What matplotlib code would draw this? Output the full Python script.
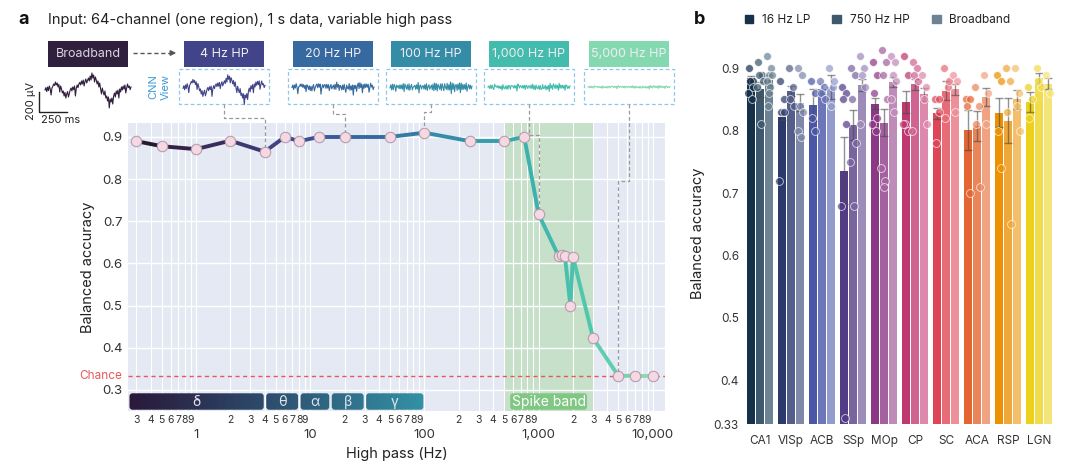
import numpy as np
import matplotlib
matplotlib.use("Agg")
import matplotlib.pyplot as plt
import seaborn as sns
from matplotlib.collections import LineCollection
from matplotlib.patches import FancyBboxPatch, Rectangle, Patch
from matplotlib.colors import LinearSegmentedColormap
from matplotlib.ticker import LogLocator, FuncFormatter

plt.rcParams['font.family'] = ['Inter', 'DejaVu Sans']
plt.rcParams['text.color'] = '#222222'
plt.rcParams['axes.labelcolor'] = '#222222'

# ---- panel a data ----
hp_freq = [0.3, 0.5, 1, 2, 4, 6, 8, 12, 20, 50, 100, 250, 500, 750,
           1000, 1500, 1600, 1700, 1900, 2000, 3000, 5000, 7000, 10000]
hp_acc = [0.890, 0.878, 0.871, 0.891, 0.865, 0.900, 0.890, 0.900, 0.900, 0.900,
          0.910, 0.890, 0.890, 0.900, 0.717, 0.617, 0.620, 0.617, 0.500, 0.616,
          0.423, 0.333, 0.334, 0.334]
chance = 0.333

band_names = ['δ', 'θ', 'α', 'β', 'γ']
band_lo = [0.25, 4, 8, 15, 30]
band_hi = [4, 8, 15, 30, 100]
spike_band = (500, 3000)

view_labels = ['Broadband', '4 Hz HP', '20 Hz HP', '100 Hz HP', '1,000 Hz HP', '5,000 Hz HP']
view_freqs = [None, 4, 20, 100, 1000, 5000]

# example broadband trace (µV)
trace_uv = [0, 24, -16, 30, -6, 40, 10, -50, 20, 36,
            60, 44, 80, 50, 70, 30, 56, -20, 40, 10,
            -30, -10, -60, -24, -80, -40, -16, -70, -36, 0,
            20, -10, 30, 4, 40, -60, 16, 50, 24, 60,
            76, 50, 90, 60, 100, 40, 84, 110, 70, 96,
            120, 90, 140, 100, 170, 120, 150, 80, 130, 100,
            60, 90, 30, 70, 10, -40, 20, -20, -50, -10,
            -80, -60, -110, -70, -180, -90, -120, -80, -140, -60,
            -30, -70, -10, -40, 0, -80, 10, -20, 30, 0,
            40, 10, 50, -30, 20, 60, 24, 40, 4, 30]

# ---- panel b data ----
regions = ['CA1', 'VISp', 'ACB', 'SSp', 'MOp', 'CP', 'SC', 'ACA', 'RSP', 'LGN']
conditions = ['16 Hz LP', '750 Hz HP', 'Broadband']
acc_lp = [0.884, 0.822, 0.841, 0.736, 0.843, 0.846, 0.828, 0.801, 0.829, 0.846]
acc_hp = [0.866, 0.864, 0.866, 0.809, 0.813, 0.874, 0.864, 0.807, 0.816, 0.884]
acc_bb = [0.881, 0.845, 0.870, 0.873, 0.878, 0.858, 0.866, 0.854, 0.850, 0.875]
sem_lp = [0.004, 0.005, 0.026, 0.054, 0.009, 0.017, 0.009, 0.032, 0.023, 0.016]
sem_hp = [0.012, 0.008, 0.008, 0.024, 0.021, 0.009, 0.015, 0.024, 0.036, 0.009]
sem_bb = [0.008, 0.013, 0.020, 0.010, 0.008, 0.010, 0.009, 0.015, 0.015, 0.009]
dots_lp = [[0.90, 0.88, 0.88, 0.87, 0.86, 0.85],
           [0.88, 0.85, 0.83, 0.83, 0.72],
           [0.88, 0.86, 0.82, 0.80],
           [0.87, 0.86, 0.85, 0.81, 0.68, 0.34],
           [0.91, 0.89, 0.86, 0.82, 0.81, 0.80],
           [0.92, 0.89, 0.81, 0.80, 0.81],
           [0.85, 0.85, 0.78, 0.83],
           [0.85, 0.85, 0.84, 0.70],
           [0.89, 0.88, 0.80, 0.74],
           [0.87, 0.85, 0.82]]
dots_hp = [[0.91, 0.89, 0.89, 0.88, 0.87, 0.81],
           [0.90, 0.87, 0.85, 0.84],
           [0.88, 0.87, 0.86, 0.85],
           [0.90, 0.89, 0.85, 0.78, 0.75, 0.68],
           [0.93, 0.91, 0.89, 0.85, 0.74, 0.72, 0.71],
           [0.91, 0.90, 0.89, 0.88, 0.80],
           [0.90, 0.87, 0.82, 0.88],
           [0.87, 0.84, 0.81, 0.71],
           [0.90, 0.88, 0.83, 0.65],
           [0.90, 0.87, 0.88]]
dots_bb = [[0.92, 0.90, 0.89, 0.89, 0.88, 0.87, 0.86, 0.84],
           [0.90, 0.89, 0.84, 0.83, 0.80, 0.79],
           [0.90, 0.87, 0.84, 0.88],
           [0.92, 0.90, 0.89, 0.87, 0.81],
           [0.92, 0.91, 0.89, 0.88, 0.85, 0.83],
           [0.89, 0.87, 0.85, 0.81],
           [0.89, 0.88, 0.83],
           [0.89, 0.86, 0.81],
           [0.90, 0.86, 0.84, 0.80],
           [0.89, 0.86]]
region_colors = [['#16324a', '#3e596d', '#6d8393'],
                 ['#2b3a6b', '#535f8a', '#8088a9'],
                 ['#4a57a6', '#6c76b8', '#939bcc'],
                 ['#523c85', '#7964a0', '#9d8bba'],
                 ['#8b3985', '#a4619f', '#bf8bb8'],
                 ['#bf3970', '#cf6490', '#dc89ab'],
                 ['#de4657', '#e76c78', '#ee9099'],
                 ['#e46432', '#ea8559', '#f0a383'],
                 ['#ed9100', '#f0a73a', '#f4bf6a'],
                 ['#ecd01c', '#f1dc4b', '#f3e57a']]

mako = sns.color_palette("mako", as_cmap=True)


def freq_color(f, shift=0.0):
    # position along mako for a given high pass
    return mako(0.217 + shift + 0.171 * np.log10(f))


def highpass(sig, win):
    sig = np.asarray(sig, float)
    pad = np.pad(sig, win, mode='edge')
    smooth = np.convolve(pad, np.ones(win) / win, mode='same')[win:-win]
    return sig - smooth


W, H = 1080, 469
fig = plt.figure(figsize=(W / 100, H / 100), dpi=100)

# ================= panel a =================
ax = fig.add_axes([128 / W, 1 - 411 / H, (665 - 128) / W, (411 - 123) / H])
ax.set_facecolor('#e4e9f3')
ax.set_xscale('log')
ax.set_xlim(0.254, 12800)
ax.set_ylim(0.25, 0.933)
for s in ax.spines.values():
    s.set_visible(False)
ax.set_axisbelow(True)
ax.xaxis.set_major_locator(LogLocator(base=10))
ax.xaxis.set_minor_locator(LogLocator(base=10, subs=np.arange(2, 10)))
ax.xaxis.set_major_formatter(FuncFormatter(lambda x, p: '{:,.0f}'.format(x)))
ax.xaxis.set_minor_formatter(FuncFormatter(
    lambda x, p: '%d' % round(x / 10 ** np.floor(np.log10(x) + 1e-9))))
ax.set_yticks([0.3, 0.4, 0.5, 0.6, 0.7, 0.8, 0.9])
ax.grid(True, which='both', axis='x', color='white', lw=0.8)
ax.grid(True, which='major', axis='y', color='white', lw=1.0)
ax.tick_params(axis='x', which='minor', labelsize=7.5, pad=3, length=0, labelcolor='#333333')
ax.tick_params(axis='x', which='major', labelsize=9.5, pad=13, length=0, labelcolor='#333333')
ax.tick_params(axis='y', labelsize=9.5, pad=4, length=0, labelcolor='#333333')
ax.set_xlabel('High pass (Hz)', fontsize=10.5, labelpad=4)
ax.set_ylabel('Balanced accuracy', fontsize=10.5, labelpad=5)

ax.axvspan(*spike_band, color='#c6e0c9', lw=0, zorder=0.3)
ax.axhline(chance, color='#e8585a', ls=(0, (3, 2.5)), lw=1, zorder=2)
ax.text(-0.011, chance, 'Chance', color='#e8585a', fontsize=8.5, ha='right', va='center',
        transform=ax.get_yaxis_transform())

pts = np.column_stack([hp_freq, hp_acc])
segs = np.stack([pts[:-1], pts[1:]], axis=1)
seg_cols = [freq_color(np.sqrt(a * b), -0.03) for a, b in zip(hp_freq[:-1], hp_freq[1:])]
lc = LineCollection(segs, colors=seg_cols, lw=2.8, capstyle='round', joinstyle='round', zorder=3)
ax.add_collection(lc)
ax.plot(hp_freq, hp_acc, 'o', ms=7.5, mfc='#f6d7e4', mec='#b59fac', mew=0.8, zorder=4)

# ================= panel b =================
bx = fig.add_axes([744.5 / W, 1 - 424 / H, 310 / W, (424 - 43.3) / H])
bx.set_xlim(-0.5, 9.5)
bx.set_ylim(0.33, 0.94)
for s in bx.spines.values():
    s.set_visible(False)
xpos = np.arange(len(regions))
jit = np.array([-0.07, 0.06, -0.02, 0.09, -0.09, 0.03, 0.0, -0.05])
for k, (acc, sem, dots) in enumerate(zip([acc_lp, acc_hp, acc_bb],
                                         [sem_lp, sem_hp, sem_bb],
                                         [dots_lp, dots_hp, dots_bb])):
    off = (k - 1) * 0.3
    cols = [c[k] for c in region_colors]
    bx.bar(xpos + off, acc, width=0.27, color=cols, zorder=2)
    bx.errorbar(xpos + off, acc, yerr=sem, fmt='none', ecolor='#4a4a4a', elinewidth=1,
                capsize=3, capthick=1, alpha=0.6, zorder=3)
    for i, d in enumerate(dots):
        xs = xpos[i] + off + jit[:len(d)]
        bx.scatter(xs, d, s=32, color=cols[i], alpha=0.72, edgecolors='white',
                   linewidths=0.6, zorder=4)
bx.set_xticks(xpos)
bx.set_xticklabels(regions)
bx.set_yticks([0.33, 0.4, 0.5, 0.6, 0.7, 0.8, 0.9])
bx.set_yticklabels(['0.33', '0.4', '0.5', '0.6', '0.7', '0.8', '0.9'])
bx.tick_params(axis='both', length=0, labelsize=8.5, labelcolor='#333333')
bx.tick_params(axis='x', pad=8)
bx.tick_params(axis='y', pad=4)
bx.set_ylabel('Balanced accuracy', fontsize=10.5, labelpad=6)
handles = [Patch(color=c) for c in region_colors[0]]
bx.legend(handles, conditions, ncol=3, loc='center left', bbox_to_anchor=(0.0, 1.061),
          frameon=False, fontsize=8.5, handlelength=0.75, handleheight=0.75,
          handletextpad=0.7, columnspacing=1.9, borderpad=0, borderaxespad=0)

# ================= overlay (pixel coordinates) =================
ov = fig.add_axes([0, 0, 1, 1], facecolor='none')
ov.axis('off')
ov.set_xlim(0, W)
ov.set_ylim(H, 0)


def to_px(x, y):
    return ov.transData.inverted().transform(ax.transData.transform((x, y)))


ax_left_px = to_px(ax.get_xlim()[0], 0.3)[0]

# frequency bands
band_cmap = LinearSegmentedColormap.from_list(
    'bands', [(0, '#2a1839'), (0.46, '#2d4b6c'), (1, '#3392a6')])
y_top = to_px(1, 0.292)[1]
y_bot = to_px(1, 0.253)[1]
gx0 = ax_left_px
gx1 = to_px(band_hi[-1], 0.3)[0]
grad = np.linspace(0, 1, 256)[None, :]
for name, lo, hi in zip(band_names, band_lo, band_hi):
    l = max(to_px(lo, 0.3)[0], ax_left_px) + 1.5
    r = to_px(hi, 0.3)[0] - 1.0
    box = FancyBboxPatch((l, y_top), r - l, y_bot - y_top,
                         boxstyle='round,pad=0,rounding_size=3', fc='none', ec='none')
    ov.add_patch(box)
    im = ov.imshow(grad, extent=(gx0, gx1, y_bot, y_top), cmap=band_cmap,
                   aspect='auto', zorder=2)
    im.set_clip_path(box)
    ov.text((l + r) / 2, (y_top + y_bot) / 2, name, color='#e4e4ee', ha='center',
            va='center', fontsize=10, zorder=5)

sl = to_px(spike_band[0], 0.3)[0] + 6
sr = to_px(spike_band[1], 0.3)[0] - 6
ov.add_patch(FancyBboxPatch((sl, y_top), sr - sl, y_bot - y_top,
                            boxstyle='round,pad=0,rounding_size=3', fc='#80c784',
                            ec='none', zorder=3))
ov.text((sl + sr) / 2, (y_top + y_bot) / 2, 'Spike band', color='white', ha='center',
        va='center', fontsize=10, zorder=5)

# title and panel letters
ov.text(18, 20, 'a', fontsize=13, weight='bold', va='center', color='#111111')
ov.text(48, 20, 'Input: 64-channel (one region), 1 s data, variable high pass',
        fontsize=10.5, va='center')
ov.text(694, 20, 'b', fontsize=13, weight='bold', va='center', color='#111111')

# view boxes and traces
box_x = [48, 184, 293, 391, 489, 589]
elbow_y = [None, 118, 114, 112, 135, 181]
hp_win = [None, 40, 8, 3, 2, 2]
hp_gain = [1, 1, 1, 1, 0.8, 0.35]
uv_px = 0.1
for lab, f, bxp, ey, win, g in zip(view_labels, view_freqs, box_x, elbow_y, hp_win, hp_gain):
    col = mako(0.15) if f is None else freq_color(f)
    tcol = '#d9d3de' if f is None else '#eeeef4'
    ov.add_patch(Rectangle((bxp, 41), 80, 26, fc=col, ec='none', zorder=3))
    ov.text(bxp + 40, 54, lab, color=tcol, fontsize=9, ha='center', va='center', zorder=4)
    if f is None:
        sig = np.asarray(trace_uv, float)
        tx = np.linspace(45, 131, len(sig))
        ov.plot(tx, 90 - sig * uv_px, color=col, lw=0.8, zorder=3)
        continue
    sig = highpass(trace_uv, win) * g
    rx = bxp - 5
    ov.add_patch(Rectangle((rx, 69), 90, 35, fill=False, ec='#8cc8ec',
                           ls=(0, (3, 2)), lw=0.9, zorder=3))
    tx = np.linspace(rx + 4, rx + 86, len(sig))
    ov.plot(tx, 87 - sig * uv_px, color=col, lw=0.8, zorder=3)
    # connector to the point on the curve
    px, py = to_px(f, hp_acc[hp_freq.index(f)])
    cx = rx + 45
    ov.plot([cx, cx, px, px], [104, ey, ey, py - 5], color='#9a9a9a',
            ls=(0, (3, 2)), lw=0.9, zorder=3)

ov.text(153, 87, 'CNN', rotation=90, color='#3d9ad6', fontsize=8, ha='center', va='center')
ov.text(166, 87, 'View', rotation=90, color='#3d9ad6', fontsize=8, ha='center', va='center')

# broadband -> 4 Hz arrow
ov.plot([133, 171], [53, 53], color='#555555', ls=(0, (3, 2)), lw=1)
ov.annotate('', xy=(179, 53), xytext=(170, 53),
            arrowprops=dict(arrowstyle='-|>', color='#555555', lw=1, mutation_scale=8))

# scale bar
ov.plot([39, 39, 67], [92, 112, 112], color='#222222', lw=1)
ov.text(31, 101, '200 µV', rotation=90, fontsize=8, ha='center', va='center')
ov.text(41, 120, '250 ms', fontsize=8, ha='left', va='center')

ov.set_xlim(0, W)
ov.set_ylim(H, 0)

fig.savefig('out.png', dpi=100)
